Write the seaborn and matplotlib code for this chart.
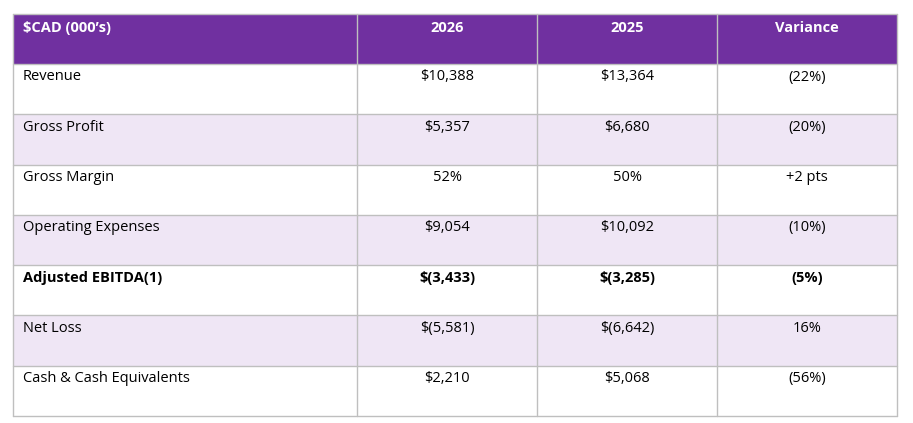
import matplotlib
matplotlib.use('Agg')
import matplotlib.pyplot as plt
import seaborn as sns
from matplotlib.patches import Rectangle
from matplotlib.lines import Line2D

sns.set_theme(style='white')
plt.rcParams['font.family'] = ['Open Sans', 'DejaVu Sans']

# Table data
header = ['$CAD (000\u2019s)', '2026', '2025', 'Variance']
metrics = ['Revenue', 'Gross Profit', 'Gross Margin', 'Operating Expenses',
           'Adjusted EBITDA(1)', 'Net Loss', 'Cash & Cash Equivalents']
col_2026 = ['$10,388', '$5,357', '52%', '$9,054', '$(3,433)', '$(5,581)', '$2,210']
col_2025 = ['$13,364', '$6,680', '50%', '$10,092', '$(3,285)', '$(6,642)', '$5,068']
variance = ['(22%)', '(20%)', '+2 pts', '(10%)', '(5%)', '16%', '(56%)']
bold_rows = ['Adjusted EBITDA(1)']

purple = '#7030a0'
shade = '#efe6f5'
grid = '#bfbfbf'

fig = plt.figure(figsize=(9.13, 4.23), dpi=100)
ax = fig.add_axes([0, 0, 1, 1])
ax.set_xlim(0, 913)
ax.set_ylim(423, 0)
ax.axis('off')

col_x = [13, 357, 537, 717, 897]
top, head_h = 14, 50
row_h = (416 - 64) / len(metrics)

# header
ax.add_patch(Rectangle((col_x[0], top), col_x[-1] - col_x[0], head_h, color=purple, lw=0))
for i, h in enumerate(header):
    if i == 0:
        ax.text(col_x[0] + 10, top + 14, h, color='white', fontsize=10.5,
                fontweight='bold', va='center', ha='left')
    else:
        ax.text((col_x[i] + col_x[i + 1]) / 2, top + 14, h, color='white',
                fontsize=10.5, fontweight='bold', va='center', ha='center')

for r, name in enumerate(metrics):
    y0 = top + head_h + r * row_h
    if r % 2 == 1:
        ax.add_patch(Rectangle((col_x[0], y0), col_x[-1] - col_x[0], row_h, color=shade, lw=0))
    weight = 'bold' if name in bold_rows else 'normal'
    ty = y0 + 13
    ax.text(col_x[0] + 10, ty, name, fontsize=10.5, fontweight=weight,
            va='center', ha='left', color='black')
    for c, vals in enumerate([col_2026, col_2025, variance], start=1):
        ax.text((col_x[c] + col_x[c + 1]) / 2, ty, vals[r], fontsize=10.5,
                fontweight=weight, va='center', ha='center', color='black')

# grid lines
bottom = top + head_h + len(metrics) * row_h
for x in col_x:
    ax.add_line(Line2D([x, x], [top, bottom], color=grid, lw=1))
for r in range(len(metrics) + 2):
    y = top if r == 0 else top + head_h + (r - 1) * row_h
    ax.add_line(Line2D([col_x[0], col_x[-1]], [y, y], color=grid, lw=1))

fig.savefig('out.png', dpi=100)
